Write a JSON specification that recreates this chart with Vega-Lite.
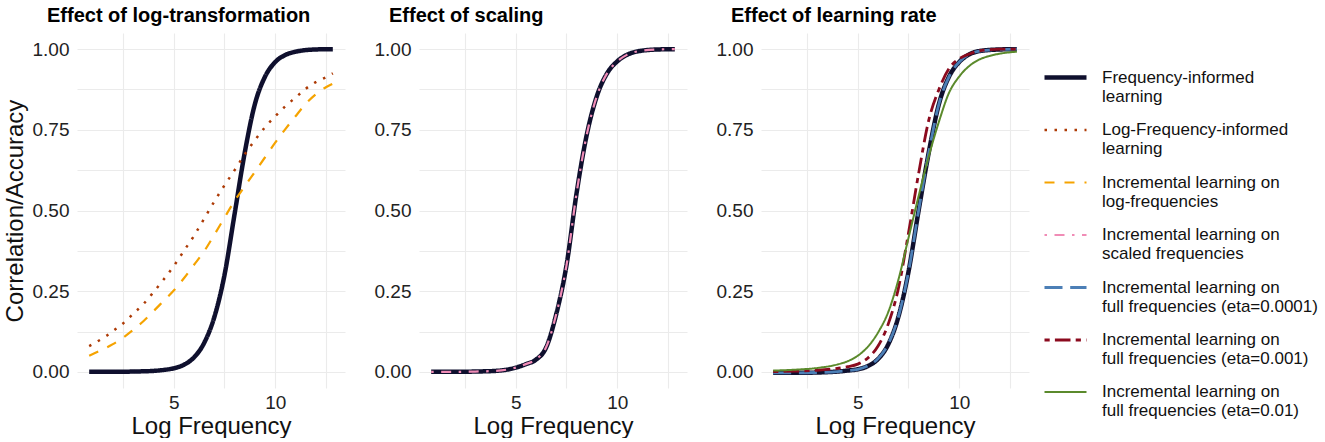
{
  "$schema": "https://vega.github.io/schema/vega-lite/v6.json",
  "padding": {"left": 3, "top": 6, "right": 0, "bottom": 0},
  "config": {
    "font": "Liberation Sans",
    "view": {"stroke": null},
    "concat": {"spacing": 29},
    "axis": {
      "grid": true,
      "gridColor": "#ebebeb",
      "gridWidth": 1.1,
      "domain": false,
      "ticks": false,
      "tickSize": 0,
      "labelFont": "Liberation Sans",
      "labelFontSize": 19,
      "labelColor": "#222222",
      "titleFont": "Liberation Sans",
      "titleFontSize": 24,
      "titleFontWeight": "normal",
      "titleColor": "#111111"
    },
    "title": {
      "fontSize": 20,
      "fontWeight": "bold",
      "anchor": "start",
      "frame": "group",
      "dx": -30,
      "offset": 7,
      "baseline": "alphabetic",
      "color": "#000000"
    },
    "legend": {
      "title": null,
      "labelFont": "Liberation Sans",
      "labelFontSize": 17,
      "labelColor": "#111111",
      "labelLimit": 300,
      "labelOffset": 13,
      "symbolType": "stroke",
      "symbolSize": 1764,
      "rowPadding": 2.5,
      "padding": 0
    }
  },
  "data": {
    "values": [
      {"p": 1, "s": "Frequency-informed|learning", "x": 0.83, "y": 0},
      {"p": 1, "s": "Frequency-informed|learning", "x": 2, "y": 0},
      {"p": 1, "s": "Frequency-informed|learning", "x": 3, "y": 0.001},
      {"p": 1, "s": "Frequency-informed|learning", "x": 4, "y": 0.003},
      {"p": 1, "s": "Frequency-informed|learning", "x": 4.5, "y": 0.006},
      {"p": 1, "s": "Frequency-informed|learning", "x": 5, "y": 0.011},
      {"p": 1, "s": "Frequency-informed|learning", "x": 5.5, "y": 0.022},
      {"p": 1, "s": "Frequency-informed|learning", "x": 6, "y": 0.045},
      {"p": 1, "s": "Frequency-informed|learning", "x": 6.5, "y": 0.09},
      {"p": 1, "s": "Frequency-informed|learning", "x": 7, "y": 0.17},
      {"p": 1, "s": "Frequency-informed|learning", "x": 7.5, "y": 0.3},
      {"p": 1, "s": "Frequency-informed|learning", "x": 8, "y": 0.49},
      {"p": 1, "s": "Frequency-informed|learning", "x": 8.5, "y": 0.68},
      {"p": 1, "s": "Frequency-informed|learning", "x": 9, "y": 0.83},
      {"p": 1, "s": "Frequency-informed|learning", "x": 9.5, "y": 0.915},
      {"p": 1, "s": "Frequency-informed|learning", "x": 10, "y": 0.96},
      {"p": 1, "s": "Frequency-informed|learning", "x": 10.5, "y": 0.982},
      {"p": 1, "s": "Frequency-informed|learning", "x": 11, "y": 0.992},
      {"p": 1, "s": "Frequency-informed|learning", "x": 11.5, "y": 0.997},
      {"p": 1, "s": "Frequency-informed|learning", "x": 12, "y": 0.999},
      {"p": 1, "s": "Frequency-informed|learning", "x": 12.84, "y": 1.0},

      {"p": 1, "s": "Log-Frequency-informed|learning", "x": 0.83, "y": 0.08},
      {"p": 1, "s": "Log-Frequency-informed|learning", "x": 1.64, "y": 0.11},
      {"p": 1, "s": "Log-Frequency-informed|learning", "x": 2.1, "y": 0.131},
      {"p": 1, "s": "Log-Frequency-informed|learning", "x": 2.5, "y": 0.15},
      {"p": 1, "s": "Log-Frequency-informed|learning", "x": 3, "y": 0.18},
      {"p": 1, "s": "Log-Frequency-informed|learning", "x": 3.5, "y": 0.21},
      {"p": 1, "s": "Log-Frequency-informed|learning", "x": 4, "y": 0.247},
      {"p": 1, "s": "Log-Frequency-informed|learning", "x": 4.5, "y": 0.286},
      {"p": 1, "s": "Log-Frequency-informed|learning", "x": 5, "y": 0.328},
      {"p": 1, "s": "Log-Frequency-informed|learning", "x": 5.5, "y": 0.375},
      {"p": 1, "s": "Log-Frequency-informed|learning", "x": 6, "y": 0.422},
      {"p": 1, "s": "Log-Frequency-informed|learning", "x": 6.5, "y": 0.475},
      {"p": 1, "s": "Log-Frequency-informed|learning", "x": 7, "y": 0.528},
      {"p": 1, "s": "Log-Frequency-informed|learning", "x": 7.5, "y": 0.578},
      {"p": 1, "s": "Log-Frequency-informed|learning", "x": 8, "y": 0.625},
      {"p": 1, "s": "Log-Frequency-informed|learning", "x": 8.5, "y": 0.674},
      {"p": 1, "s": "Log-Frequency-informed|learning", "x": 9, "y": 0.718},
      {"p": 1, "s": "Log-Frequency-informed|learning", "x": 9.5, "y": 0.758},
      {"p": 1, "s": "Log-Frequency-informed|learning", "x": 10, "y": 0.792},
      {"p": 1, "s": "Log-Frequency-informed|learning", "x": 10.5, "y": 0.823},
      {"p": 1, "s": "Log-Frequency-informed|learning", "x": 11, "y": 0.85},
      {"p": 1, "s": "Log-Frequency-informed|learning", "x": 11.5, "y": 0.877},
      {"p": 1, "s": "Log-Frequency-informed|learning", "x": 12, "y": 0.898},
      {"p": 1, "s": "Log-Frequency-informed|learning", "x": 12.5, "y": 0.913},
      {"p": 1, "s": "Log-Frequency-informed|learning", "x": 12.84, "y": 0.925},

      {"p": 1, "s": "Incremental learning on|log-frequencies", "x": 0.83, "y": 0.05},
      {"p": 1, "s": "Incremental learning on|log-frequencies", "x": 1.64, "y": 0.074},
      {"p": 1, "s": "Incremental learning on|log-frequencies", "x": 2, "y": 0.086},
      {"p": 1, "s": "Incremental learning on|log-frequencies", "x": 2.5, "y": 0.106},
      {"p": 1, "s": "Incremental learning on|log-frequencies", "x": 3, "y": 0.13},
      {"p": 1, "s": "Incremental learning on|log-frequencies", "x": 3.5, "y": 0.157},
      {"p": 1, "s": "Incremental learning on|log-frequencies", "x": 4, "y": 0.188},
      {"p": 1, "s": "Incremental learning on|log-frequencies", "x": 4.5, "y": 0.22},
      {"p": 1, "s": "Incremental learning on|log-frequencies", "x": 5, "y": 0.252},
      {"p": 1, "s": "Incremental learning on|log-frequencies", "x": 5.5, "y": 0.29},
      {"p": 1, "s": "Incremental learning on|log-frequencies", "x": 6, "y": 0.332},
      {"p": 1, "s": "Incremental learning on|log-frequencies", "x": 6.5, "y": 0.374},
      {"p": 1, "s": "Incremental learning on|log-frequencies", "x": 7, "y": 0.425},
      {"p": 1, "s": "Incremental learning on|log-frequencies", "x": 7.5, "y": 0.478},
      {"p": 1, "s": "Incremental learning on|log-frequencies", "x": 8, "y": 0.53},
      {"p": 1, "s": "Incremental learning on|log-frequencies", "x": 8.5, "y": 0.575},
      {"p": 1, "s": "Incremental learning on|log-frequencies", "x": 9, "y": 0.62},
      {"p": 1, "s": "Incremental learning on|log-frequencies", "x": 9.5, "y": 0.665},
      {"p": 1, "s": "Incremental learning on|log-frequencies", "x": 10, "y": 0.71},
      {"p": 1, "s": "Incremental learning on|log-frequencies", "x": 10.5, "y": 0.752},
      {"p": 1, "s": "Incremental learning on|log-frequencies", "x": 11, "y": 0.792},
      {"p": 1, "s": "Incremental learning on|log-frequencies", "x": 11.5, "y": 0.83},
      {"p": 1, "s": "Incremental learning on|log-frequencies", "x": 12, "y": 0.86},
      {"p": 1, "s": "Incremental learning on|log-frequencies", "x": 12.5, "y": 0.882},
      {"p": 1, "s": "Incremental learning on|log-frequencies", "x": 12.84, "y": 0.893},

      {"p": 2, "s": "Frequency-informed|learning", "x": 0.83, "y": 0},
      {"p": 2, "s": "Frequency-informed|learning", "x": 2, "y": 0},
      {"p": 2, "s": "Frequency-informed|learning", "x": 3, "y": 0.001},
      {"p": 2, "s": "Frequency-informed|learning", "x": 4, "y": 0.003},
      {"p": 2, "s": "Frequency-informed|learning", "x": 5, "y": 0.013},
      {"p": 2, "s": "Frequency-informed|learning", "x": 5.5, "y": 0.024},
      {"p": 2, "s": "Frequency-informed|learning", "x": 6, "y": 0.038},
      {"p": 2, "s": "Frequency-informed|learning", "x": 6.5, "y": 0.076},
      {"p": 2, "s": "Frequency-informed|learning", "x": 7, "y": 0.18},
      {"p": 2, "s": "Frequency-informed|learning", "x": 7.5, "y": 0.33},
      {"p": 2, "s": "Frequency-informed|learning", "x": 8, "y": 0.555},
      {"p": 2, "s": "Frequency-informed|learning", "x": 8.5, "y": 0.735},
      {"p": 2, "s": "Frequency-informed|learning", "x": 9, "y": 0.855},
      {"p": 2, "s": "Frequency-informed|learning", "x": 9.5, "y": 0.925},
      {"p": 2, "s": "Frequency-informed|learning", "x": 10, "y": 0.962},
      {"p": 2, "s": "Frequency-informed|learning", "x": 10.5, "y": 0.983},
      {"p": 2, "s": "Frequency-informed|learning", "x": 11, "y": 0.993},
      {"p": 2, "s": "Frequency-informed|learning", "x": 12, "y": 0.999},
      {"p": 2, "s": "Frequency-informed|learning", "x": 12.84, "y": 1.0},

      {"p": 2, "s": "Incremental learning on|scaled frequencies", "x": 0.83, "y": 0},
      {"p": 2, "s": "Incremental learning on|scaled frequencies", "x": 2, "y": 0},
      {"p": 2, "s": "Incremental learning on|scaled frequencies", "x": 3, "y": 0.001},
      {"p": 2, "s": "Incremental learning on|scaled frequencies", "x": 4, "y": 0.003},
      {"p": 2, "s": "Incremental learning on|scaled frequencies", "x": 5, "y": 0.013},
      {"p": 2, "s": "Incremental learning on|scaled frequencies", "x": 5.5, "y": 0.024},
      {"p": 2, "s": "Incremental learning on|scaled frequencies", "x": 6, "y": 0.039},
      {"p": 2, "s": "Incremental learning on|scaled frequencies", "x": 6.5, "y": 0.077},
      {"p": 2, "s": "Incremental learning on|scaled frequencies", "x": 7, "y": 0.18},
      {"p": 2, "s": "Incremental learning on|scaled frequencies", "x": 7.5, "y": 0.33},
      {"p": 2, "s": "Incremental learning on|scaled frequencies", "x": 8, "y": 0.555},
      {"p": 2, "s": "Incremental learning on|scaled frequencies", "x": 8.5, "y": 0.735},
      {"p": 2, "s": "Incremental learning on|scaled frequencies", "x": 9, "y": 0.855},
      {"p": 2, "s": "Incremental learning on|scaled frequencies", "x": 9.5, "y": 0.925},
      {"p": 2, "s": "Incremental learning on|scaled frequencies", "x": 10, "y": 0.962},
      {"p": 2, "s": "Incremental learning on|scaled frequencies", "x": 10.5, "y": 0.983},
      {"p": 2, "s": "Incremental learning on|scaled frequencies", "x": 11, "y": 0.993},
      {"p": 2, "s": "Incremental learning on|scaled frequencies", "x": 12, "y": 0.999},
      {"p": 2, "s": "Incremental learning on|scaled frequencies", "x": 12.84, "y": 1.0},

      {"p": 3, "s": "Frequency-informed|learning", "x": 0.83, "y": -0.003},
      {"p": 3, "s": "Frequency-informed|learning", "x": 2, "y": -0.003},
      {"p": 3, "s": "Frequency-informed|learning", "x": 3, "y": -0.002},
      {"p": 3, "s": "Frequency-informed|learning", "x": 4, "y": 0.001},
      {"p": 3, "s": "Frequency-informed|learning", "x": 4.5, "y": 0.004},
      {"p": 3, "s": "Frequency-informed|learning", "x": 5, "y": 0.008},
      {"p": 3, "s": "Frequency-informed|learning", "x": 5.5, "y": 0.018},
      {"p": 3, "s": "Frequency-informed|learning", "x": 6, "y": 0.04},
      {"p": 3, "s": "Frequency-informed|learning", "x": 6.5, "y": 0.085},
      {"p": 3, "s": "Frequency-informed|learning", "x": 7, "y": 0.17},
      {"p": 3, "s": "Frequency-informed|learning", "x": 7.5, "y": 0.31},
      {"p": 3, "s": "Frequency-informed|learning", "x": 8, "y": 0.5},
      {"p": 3, "s": "Frequency-informed|learning", "x": 8.5, "y": 0.68},
      {"p": 3, "s": "Frequency-informed|learning", "x": 9, "y": 0.83},
      {"p": 3, "s": "Frequency-informed|learning", "x": 9.5, "y": 0.915},
      {"p": 3, "s": "Frequency-informed|learning", "x": 10, "y": 0.96},
      {"p": 3, "s": "Frequency-informed|learning", "x": 10.5, "y": 0.984},
      {"p": 3, "s": "Frequency-informed|learning", "x": 11, "y": 0.994},
      {"p": 3, "s": "Frequency-informed|learning", "x": 12, "y": 0.999},
      {"p": 3, "s": "Frequency-informed|learning", "x": 12.84, "y": 1.0},

      {"p": 3, "s": "Incremental learning on|full frequencies (eta=0.0001)", "x": 0.83, "y": -0.003},
      {"p": 3, "s": "Incremental learning on|full frequencies (eta=0.0001)", "x": 2, "y": -0.003},
      {"p": 3, "s": "Incremental learning on|full frequencies (eta=0.0001)", "x": 3, "y": -0.002},
      {"p": 3, "s": "Incremental learning on|full frequencies (eta=0.0001)", "x": 4, "y": 0.001},
      {"p": 3, "s": "Incremental learning on|full frequencies (eta=0.0001)", "x": 4.5, "y": 0.004},
      {"p": 3, "s": "Incremental learning on|full frequencies (eta=0.0001)", "x": 5, "y": 0.008},
      {"p": 3, "s": "Incremental learning on|full frequencies (eta=0.0001)", "x": 5.5, "y": 0.019},
      {"p": 3, "s": "Incremental learning on|full frequencies (eta=0.0001)", "x": 6, "y": 0.041},
      {"p": 3, "s": "Incremental learning on|full frequencies (eta=0.0001)", "x": 6.5, "y": 0.086},
      {"p": 3, "s": "Incremental learning on|full frequencies (eta=0.0001)", "x": 7, "y": 0.17},
      {"p": 3, "s": "Incremental learning on|full frequencies (eta=0.0001)", "x": 7.5, "y": 0.31},
      {"p": 3, "s": "Incremental learning on|full frequencies (eta=0.0001)", "x": 8, "y": 0.5},
      {"p": 3, "s": "Incremental learning on|full frequencies (eta=0.0001)", "x": 8.5, "y": 0.68},
      {"p": 3, "s": "Incremental learning on|full frequencies (eta=0.0001)", "x": 9, "y": 0.83},
      {"p": 3, "s": "Incremental learning on|full frequencies (eta=0.0001)", "x": 9.5, "y": 0.915},
      {"p": 3, "s": "Incremental learning on|full frequencies (eta=0.0001)", "x": 10, "y": 0.96},
      {"p": 3, "s": "Incremental learning on|full frequencies (eta=0.0001)", "x": 10.5, "y": 0.984},
      {"p": 3, "s": "Incremental learning on|full frequencies (eta=0.0001)", "x": 11, "y": 0.994},
      {"p": 3, "s": "Incremental learning on|full frequencies (eta=0.0001)", "x": 12, "y": 0.999},
      {"p": 3, "s": "Incremental learning on|full frequencies (eta=0.0001)", "x": 12.84, "y": 1.0},

      {"p": 3, "s": "Incremental learning on|full frequencies (eta=0.001)", "x": 0.83, "y": 0.001},
      {"p": 3, "s": "Incremental learning on|full frequencies (eta=0.001)", "x": 2, "y": 0.002},
      {"p": 3, "s": "Incremental learning on|full frequencies (eta=0.001)", "x": 3, "y": 0.005},
      {"p": 3, "s": "Incremental learning on|full frequencies (eta=0.001)", "x": 4, "y": 0.011},
      {"p": 3, "s": "Incremental learning on|full frequencies (eta=0.001)", "x": 4.5, "y": 0.016},
      {"p": 3, "s": "Incremental learning on|full frequencies (eta=0.001)", "x": 5, "y": 0.024},
      {"p": 3, "s": "Incremental learning on|full frequencies (eta=0.001)", "x": 5.5, "y": 0.043},
      {"p": 3, "s": "Incremental learning on|full frequencies (eta=0.001)", "x": 6, "y": 0.08},
      {"p": 3, "s": "Incremental learning on|full frequencies (eta=0.001)", "x": 6.5, "y": 0.148},
      {"p": 3, "s": "Incremental learning on|full frequencies (eta=0.001)", "x": 7, "y": 0.258},
      {"p": 3, "s": "Incremental learning on|full frequencies (eta=0.001)", "x": 7.5, "y": 0.43},
      {"p": 3, "s": "Incremental learning on|full frequencies (eta=0.001)", "x": 8, "y": 0.615},
      {"p": 3, "s": "Incremental learning on|full frequencies (eta=0.001)", "x": 8.5, "y": 0.78},
      {"p": 3, "s": "Incremental learning on|full frequencies (eta=0.001)", "x": 9, "y": 0.875},
      {"p": 3, "s": "Incremental learning on|full frequencies (eta=0.001)", "x": 9.5, "y": 0.94},
      {"p": 3, "s": "Incremental learning on|full frequencies (eta=0.001)", "x": 10, "y": 0.97},
      {"p": 3, "s": "Incremental learning on|full frequencies (eta=0.001)", "x": 10.5, "y": 0.985},
      {"p": 3, "s": "Incremental learning on|full frequencies (eta=0.001)", "x": 11, "y": 0.995},
      {"p": 3, "s": "Incremental learning on|full frequencies (eta=0.001)", "x": 12, "y": 1.0},
      {"p": 3, "s": "Incremental learning on|full frequencies (eta=0.001)", "x": 12.84, "y": 1.0},

      {"p": 3, "s": "Incremental learning on|full frequencies (eta=0.01)", "x": 0.83, "y": 0.004},
      {"p": 3, "s": "Incremental learning on|full frequencies (eta=0.01)", "x": 2, "y": 0.007},
      {"p": 3, "s": "Incremental learning on|full frequencies (eta=0.01)", "x": 3, "y": 0.012},
      {"p": 3, "s": "Incremental learning on|full frequencies (eta=0.01)", "x": 4, "y": 0.023},
      {"p": 3, "s": "Incremental learning on|full frequencies (eta=0.01)", "x": 4.5, "y": 0.033},
      {"p": 3, "s": "Incremental learning on|full frequencies (eta=0.01)", "x": 5, "y": 0.05},
      {"p": 3, "s": "Incremental learning on|full frequencies (eta=0.01)", "x": 5.5, "y": 0.078},
      {"p": 3, "s": "Incremental learning on|full frequencies (eta=0.01)", "x": 6, "y": 0.122},
      {"p": 3, "s": "Incremental learning on|full frequencies (eta=0.01)", "x": 6.5, "y": 0.185},
      {"p": 3, "s": "Incremental learning on|full frequencies (eta=0.01)", "x": 7, "y": 0.285},
      {"p": 3, "s": "Incremental learning on|full frequencies (eta=0.01)", "x": 7.5, "y": 0.415},
      {"p": 3, "s": "Incremental learning on|full frequencies (eta=0.01)", "x": 8, "y": 0.545},
      {"p": 3, "s": "Incremental learning on|full frequencies (eta=0.01)", "x": 8.5, "y": 0.668},
      {"p": 3, "s": "Incremental learning on|full frequencies (eta=0.01)", "x": 9, "y": 0.775},
      {"p": 3, "s": "Incremental learning on|full frequencies (eta=0.01)", "x": 9.5, "y": 0.865},
      {"p": 3, "s": "Incremental learning on|full frequencies (eta=0.01)", "x": 10, "y": 0.915},
      {"p": 3, "s": "Incremental learning on|full frequencies (eta=0.01)", "x": 10.5, "y": 0.948},
      {"p": 3, "s": "Incremental learning on|full frequencies (eta=0.01)", "x": 11, "y": 0.968},
      {"p": 3, "s": "Incremental learning on|full frequencies (eta=0.01)", "x": 11.5, "y": 0.979},
      {"p": 3, "s": "Incremental learning on|full frequencies (eta=0.01)", "x": 12, "y": 0.986},
      {"p": 3, "s": "Incremental learning on|full frequencies (eta=0.01)", "x": 12.84, "y": 0.992}
    ]
  },
  "hconcat": [
    {
      "title": "Effect of log-transformation",
      "width": 268,
      "height": 355,
      "transform": [{"filter": "datum.p == 1"}],
      "mark": {"type": "line", "interpolate": "monotone"},
      "encoding": {
        "x": {"field": "x", "type": "quantitative", "scale": {"domain": [0.23, 13.44], "nice": false, "zero": false},
          "axis": {"title": "Log Frequency", "values": [2.5, 5, 7.5, 10, 12.5], "labelExpr": "datum.value == 5 ? '5' : datum.value == 10 ? '10' : ''", "labelPadding": 5, "titlePadding": 2}},
        "y": {"field": "y", "type": "quantitative", "scale": {"domain": [-0.05, 1.05], "nice": false, "zero": false},
          "axis": {"title": "Correlation/Accuracy", "values": [0, 0.125, 0.25, 0.375, 0.5, 0.625, 0.75, 0.875, 1], "labelExpr": "(datum.value * 4) % 1 == 0 ? format(datum.value, '.2f') : ''", "labelPadding": 8, "titlePadding": 5}},
        "color": {"field": "s", "type": "nominal",
          "scale": {"domain": ["Frequency-informed|learning", "Log-Frequency-informed|learning", "Incremental learning on|log-frequencies", "Incremental learning on|scaled frequencies", "Incremental learning on|full frequencies (eta=0.0001)", "Incremental learning on|full frequencies (eta=0.001)", "Incremental learning on|full frequencies (eta=0.01)"],
            "range": ["#0f102e", "#ad3a05", "#f5a300", "#f08cb6", "#4c7fb6", "#8b0a1e", "#5b8a2c"]},
          "legend": {"orient": "none", "legendX": 965, "legendY": 21, "labelExpr": "split(datum.label, '|')"}},
        "strokeDash": {"field": "s", "type": "nominal",
          "scale": {"domain": ["Frequency-informed|learning", "Log-Frequency-informed|learning", "Incremental learning on|log-frequencies", "Incremental learning on|scaled frequencies", "Incremental learning on|full frequencies (eta=0.0001)", "Incremental learning on|full frequencies (eta=0.001)", "Incremental learning on|full frequencies (eta=0.01)"],
            "range": [[1, 0], [2.5, 7.5], [10, 10], [2.5, 7.5, 10, 7.5], [18, 7.7], [5.2, 5.2, 15.6, 5.2], [1, 0]]},
          "legend": {"orient": "none", "legendX": 965, "legendY": 21, "labelExpr": "split(datum.label, '|')"}},
        "strokeWidth": {"field": "s", "type": "nominal",
          "scale": {"type": "ordinal", "domain": ["Frequency-informed|learning", "Log-Frequency-informed|learning", "Incremental learning on|log-frequencies", "Incremental learning on|scaled frequencies", "Incremental learning on|full frequencies (eta=0.0001)", "Incremental learning on|full frequencies (eta=0.001)", "Incremental learning on|full frequencies (eta=0.01)"],
            "range": [4.5, 2.5, 2.2, 2.2, 2.8, 2.8, 2]},
          "legend": {"orient": "none", "legendX": 965, "legendY": 21, "labelExpr": "split(datum.label, '|')"}}
      }
    },
    {
      "title": "Effect of scaling",
      "width": 268,
      "height": 355,
      "transform": [{"filter": "datum.p == 2"}],
      "mark": {"type": "line", "interpolate": "monotone"},
      "encoding": {
        "x": {"field": "x", "type": "quantitative", "scale": {"domain": [0.23, 13.44], "nice": false, "zero": false},
          "axis": {"title": "Log Frequency", "values": [2.5, 5, 7.5, 10, 12.5], "labelExpr": "datum.value == 5 ? '5' : datum.value == 10 ? '10' : ''", "labelPadding": 5, "titlePadding": 2}},
        "y": {"field": "y", "type": "quantitative", "scale": {"domain": [-0.05, 1.05], "nice": false, "zero": false},
          "axis": {"title": null, "values": [0, 0.125, 0.25, 0.375, 0.5, 0.625, 0.75, 0.875, 1], "labelExpr": "(datum.value * 4) % 1 == 0 ? format(datum.value, '.2f') : ''", "labelPadding": 8}},
        "color": {"field": "s", "type": "nominal",
          "scale": {"domain": ["Frequency-informed|learning", "Log-Frequency-informed|learning", "Incremental learning on|log-frequencies", "Incremental learning on|scaled frequencies", "Incremental learning on|full frequencies (eta=0.0001)", "Incremental learning on|full frequencies (eta=0.001)", "Incremental learning on|full frequencies (eta=0.01)"],
            "range": ["#0f102e", "#ad3a05", "#f5a300", "#f08cb6", "#4c7fb6", "#8b0a1e", "#5b8a2c"]},
          "legend": {"orient": "none", "legendX": 965, "legendY": 21, "labelExpr": "split(datum.label, '|')"}},
        "strokeDash": {"field": "s", "type": "nominal",
          "scale": {"domain": ["Frequency-informed|learning", "Log-Frequency-informed|learning", "Incremental learning on|log-frequencies", "Incremental learning on|scaled frequencies", "Incremental learning on|full frequencies (eta=0.0001)", "Incremental learning on|full frequencies (eta=0.001)", "Incremental learning on|full frequencies (eta=0.01)"],
            "range": [[1, 0], [2.5, 7.5], [10, 10], [2.5, 7.5, 10, 7.5], [18, 7.7], [5.2, 5.2, 15.6, 5.2], [1, 0]]},
          "legend": {"orient": "none", "legendX": 965, "legendY": 21, "labelExpr": "split(datum.label, '|')"}},
        "strokeWidth": {"field": "s", "type": "nominal",
          "scale": {"type": "ordinal", "domain": ["Frequency-informed|learning", "Log-Frequency-informed|learning", "Incremental learning on|log-frequencies", "Incremental learning on|scaled frequencies", "Incremental learning on|full frequencies (eta=0.0001)", "Incremental learning on|full frequencies (eta=0.001)", "Incremental learning on|full frequencies (eta=0.01)"],
            "range": [4.5, 2.5, 2.2, 2.2, 2.8, 2.8, 2]},
          "legend": {"orient": "none", "legendX": 965, "legendY": 21, "labelExpr": "split(datum.label, '|')"}}
      }
    },
    {
      "title": "Effect of learning rate",
      "width": 268,
      "height": 355,
      "transform": [{"filter": "datum.p == 3"}],
      "mark": {"type": "line", "interpolate": "monotone"},
      "encoding": {
        "x": {"field": "x", "type": "quantitative", "scale": {"domain": [0.23, 13.44], "nice": false, "zero": false},
          "axis": {"title": "Log Frequency", "values": [2.5, 5, 7.5, 10, 12.5], "labelExpr": "datum.value == 5 ? '5' : datum.value == 10 ? '10' : ''", "labelPadding": 5, "titlePadding": 2}},
        "y": {"field": "y", "type": "quantitative", "scale": {"domain": [-0.05, 1.05], "nice": false, "zero": false},
          "axis": {"title": null, "values": [0, 0.125, 0.25, 0.375, 0.5, 0.625, 0.75, 0.875, 1], "labelExpr": "(datum.value * 4) % 1 == 0 ? format(datum.value, '.2f') : ''", "labelPadding": 8}},
        "color": {"field": "s", "type": "nominal",
          "scale": {"domain": ["Frequency-informed|learning", "Log-Frequency-informed|learning", "Incremental learning on|log-frequencies", "Incremental learning on|scaled frequencies", "Incremental learning on|full frequencies (eta=0.0001)", "Incremental learning on|full frequencies (eta=0.001)", "Incremental learning on|full frequencies (eta=0.01)"],
            "range": ["#0f102e", "#ad3a05", "#f5a300", "#f08cb6", "#4c7fb6", "#8b0a1e", "#5b8a2c"]},
          "legend": {"orient": "none", "legendX": 965, "legendY": 21, "labelExpr": "split(datum.label, '|')"}},
        "strokeDash": {"field": "s", "type": "nominal",
          "scale": {"domain": ["Frequency-informed|learning", "Log-Frequency-informed|learning", "Incremental learning on|log-frequencies", "Incremental learning on|scaled frequencies", "Incremental learning on|full frequencies (eta=0.0001)", "Incremental learning on|full frequencies (eta=0.001)", "Incremental learning on|full frequencies (eta=0.01)"],
            "range": [[1, 0], [2.5, 7.5], [10, 10], [2.5, 7.5, 10, 7.5], [18, 7.7], [5.2, 5.2, 15.6, 5.2], [1, 0]]},
          "legend": {"orient": "none", "legendX": 965, "legendY": 21, "labelExpr": "split(datum.label, '|')"}},
        "strokeWidth": {"field": "s", "type": "nominal",
          "scale": {"type": "ordinal", "domain": ["Frequency-informed|learning", "Log-Frequency-informed|learning", "Incremental learning on|log-frequencies", "Incremental learning on|scaled frequencies", "Incremental learning on|full frequencies (eta=0.0001)", "Incremental learning on|full frequencies (eta=0.001)", "Incremental learning on|full frequencies (eta=0.01)"],
            "range": [4.5, 2.5, 2.2, 2.2, 2.8, 2.8, 2]},
          "legend": {"orient": "none", "legendX": 965, "legendY": 21, "labelExpr": "split(datum.label, '|')"}}
      }
    }
  ]
}
